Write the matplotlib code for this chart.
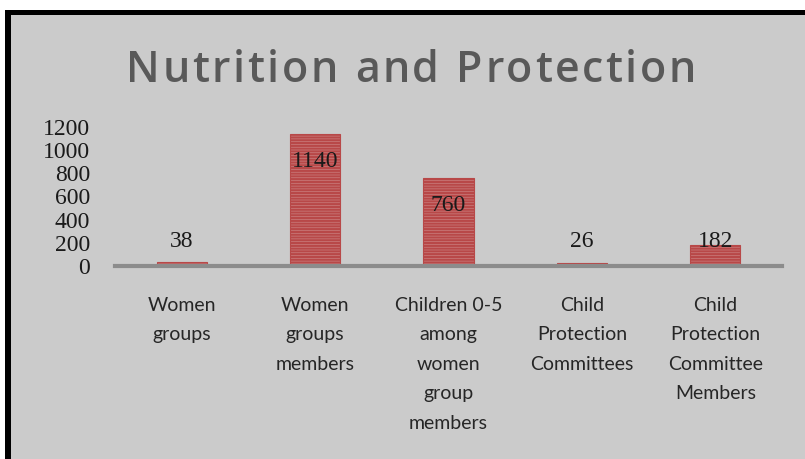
import numpy as np
import matplotlib.pyplot as plt
from matplotlib.patches import Rectangle

categories = ["Women\ngroups",
              "Women\ngroups\nmembers",
              "Children 0-5\namong\nwomen\ngroup\nmembers",
              "Child\nProtection\nCommittees",
              "Child\nProtection\nCommittee\nMembers"]
values = [38, 1140, 760, 26, 182]
yticks = [0, 200, 400, 600, 800, 1000, 1200]
title = "Nutrition and Protection"

plt.rcParams['hatch.linewidth'] = 1.6
plt.rcParams['hatch.color'] = '#9c1a1e'

fig = plt.figure(figsize=(8.05, 4.59), dpi=100, facecolor='white')
W, H = 805, 459

# framed grey chart area (the frame runs off the right and bottom)
fig.patches.append(Rectangle((5/W, -0.1), 1.1, 1.1 - 10/H, transform=fig.transFigure,
                             facecolor='black', edgecolor='none', zorder=-3))
fig.patches.append(Rectangle((11/W, -0.1), 1.1, 1.1 - 15/H, transform=fig.transFigure,
                             facecolor='#cbcbcb', edgecolor='none', zorder=-2))

ax = fig.add_axes([115/W, 1 - 266/H, 667/W, 139/H])
ax.set_facecolor('none')

x = np.arange(len(values))
ax.bar(x, values, width=0.375, color='#cf8c8c', edgecolor='#b84848',
       hatch='------', linewidth=0.8, zorder=2)

# value labels: above short bars, inside near the top of tall ones
for xi, v in zip(x, values):
    ax.text(xi, max(v - 235, 212), str(v), ha='center', va='center',
            family='Liberation Serif', fontsize=17, color='#1a1a1a', zorder=3)

ax.set_xlim(-0.5, len(values) - 0.5)
ax.set_ylim(0, 1200)
ax.set_yticks(yticks)
ax.set_yticklabels([str(t) for t in yticks], family='Liberation Serif',
                   fontsize=17, color='#1a1a1a')
ax.set_xticks(x)
ax.set_xticklabels(categories, family='Lato', fontsize=14, color='#262626',
                   linespacing=1.9, va='top')
ax.tick_params(axis='y', length=0, pad=18)
ax.tick_params(axis='x', length=0, pad=22)

for s in ['top', 'right', 'left']:
    ax.spines[s].set_visible(False)
ax.spines['bottom'].set_color('#8c8c8c')
ax.spines['bottom'].set_linewidth(3)

# letter-spaced title, drawn one character at a time
renderer = fig.canvas.get_renderer()
tkw = dict(family='Open Sans', fontweight='semibold', fontsize=31, color='#595959')
track = 2.5  # extra pixels between letters
widths = []
for ch in title:
    t = fig.text(0, 0, ch if ch != ' ' else 'n', **tkw)
    w = t.get_window_extent(renderer).width
    widths.append(w * (0.45 if ch == ' ' else 1.0))
    t.remove()
total = sum(widths) + track * (len(title) - 1)
xpos = 411 - total / 2
for ch, w in zip(title, widths):
    if ch != ' ':
        fig.text(xpos / W, 1 - 70 / H, ch, ha='left', va='center', **tkw)
    xpos += w + track

fig.savefig("out.png", dpi=100, facecolor=fig.get_facecolor())
